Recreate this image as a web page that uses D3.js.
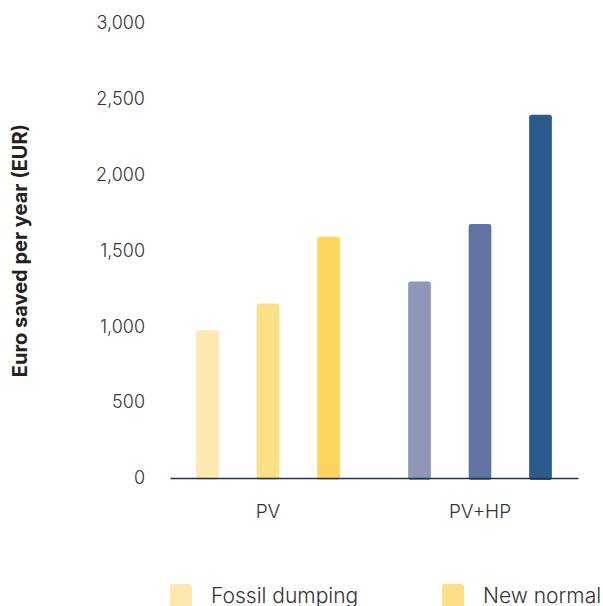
<!DOCTYPE html>
<html>
<head>
<meta charset="utf-8">
<script src="https://cdn.jsdelivr.net/npm/d3@7"></script>
<style>
  body { margin: 0; background: #fff; }
  text { font-family: Inter, "Noto Sans", sans-serif; }
</style>
</head>
<body>
<svg id="chart" width="603" height="606"></svg>
<script>
// groups and scenarios
var groups = ["PV", "PV+HP"]
var scenarios = ["Fossil dumping", "New normal", "Clean"]
var pvValues = [975, 1150, 1590]
var pvhpValues = [1295, 1675, 2395]
var yTicks = [0, 500, 1000, 1500, 2000, 2500, 3000]
var legendLabels = ["Fossil dumping", "New normal"]

var colors = {
  "PV": ["#fee8ae", "#fddf87", "#fdd55c"],
  "PV+HP": ["#8e97b9", "#6174a1", "#2b5a8d"]
}

var data = []
scenarios.forEach(function (s, i) {
  data.push({ group: "PV", scenario: s, value: pvValues[i], color: colors["PV"][i] })
  data.push({ group: "PV+HP", scenario: s, value: pvhpValues[i], color: colors["PV+HP"][i] })
})

var margin = {top: 23, right: 25, bottom: 128, left: 170}
  , width = 603 - margin.left - margin.right
  , height = 606 - margin.top - margin.bottom

var svg = d3.select("#chart")
var g = svg.append("g").attr("transform", "translate(" + margin.left + "," + margin.top + ")")

var x0 = d3.scaleBand()
  .domain(groups)
  .range([0, width])
  .paddingInner(0.0755)
  .paddingOuter(0)

var x1 = d3.scaleBand()
  .domain(scenarios)
  .range([0, x0.bandwidth()])
  .paddingInner(0.625)
  .paddingOuter(0.432)

var y = d3.scaleLinear()
  .domain([0, 3000])
  .range([height, 0])

// y axis (labels only)
var yAxis = g.append("g")
  .call(d3.axisLeft(y).tickValues(yTicks).tickFormat(d3.format(",")).tickSize(0).tickPadding(25))
yAxis.select(".domain").remove()
yAxis.selectAll("text")
  .attr("fill", "#333")
  .style("font-size", "18px")
  .style("font-weight", "300")

g.append("text")
  .attr("transform", "rotate(-90)")
  .attr("x", -height / 2)
  .attr("y", -143)
  .attr("text-anchor", "middle")
  .attr("fill", "#222")
  .style("font-size", "20px")
  .style("font-weight", "700")
  .text("Euro saved per year (EUR)")

// bars
g.selectAll(".bar")
  .data(data)
  .enter().append("rect")
  .attr("class", "bar")
  .attr("x", function (d) { return x0(d.group) + x1(d.scenario) })
  .attr("y", function (d) { return y(d.value) })
  .attr("width", x1.bandwidth())
  .attr("height", function (d) { return height - y(d.value) + 2 })
  .attr("rx", 2.5)
  .attr("fill", function (d) { return d.color })

// x axis
var xAxis = g.append("g")
  .attr("transform", "translate(0," + height + ")")
  .call(d3.axisBottom(x0).tickSize(0).tickPadding(27))
xAxis.select(".domain").attr("stroke", "#1c3557").attr("stroke-width", 1.5)
xAxis.selectAll("text")
  .attr("fill", "#333")
  .style("font-size", "19px")
  .style("font-weight", "300")

// legend
var legend = svg.append("g").attr("transform", "translate(170,584)")
var li = legend.selectAll(".leg")
  .data(legendLabels)
  .enter().append("g")
  .attr("transform", function (d, i) { return "translate(" + (i * 272) + ",0)" })
li.append("rect")
  .attr("width", 22).attr("height", 24).attr("rx", 2)
  .attr("fill", function (d, i) { return colors["PV"][i] })
li.append("text")
  .attr("x", 41).attr("y", 19)
  .attr("fill", "#333")
  .style("font-size", "21px")
  .style("font-weight", "300")
  .text(function (d) { return d })
</script>
</body>
</html>
